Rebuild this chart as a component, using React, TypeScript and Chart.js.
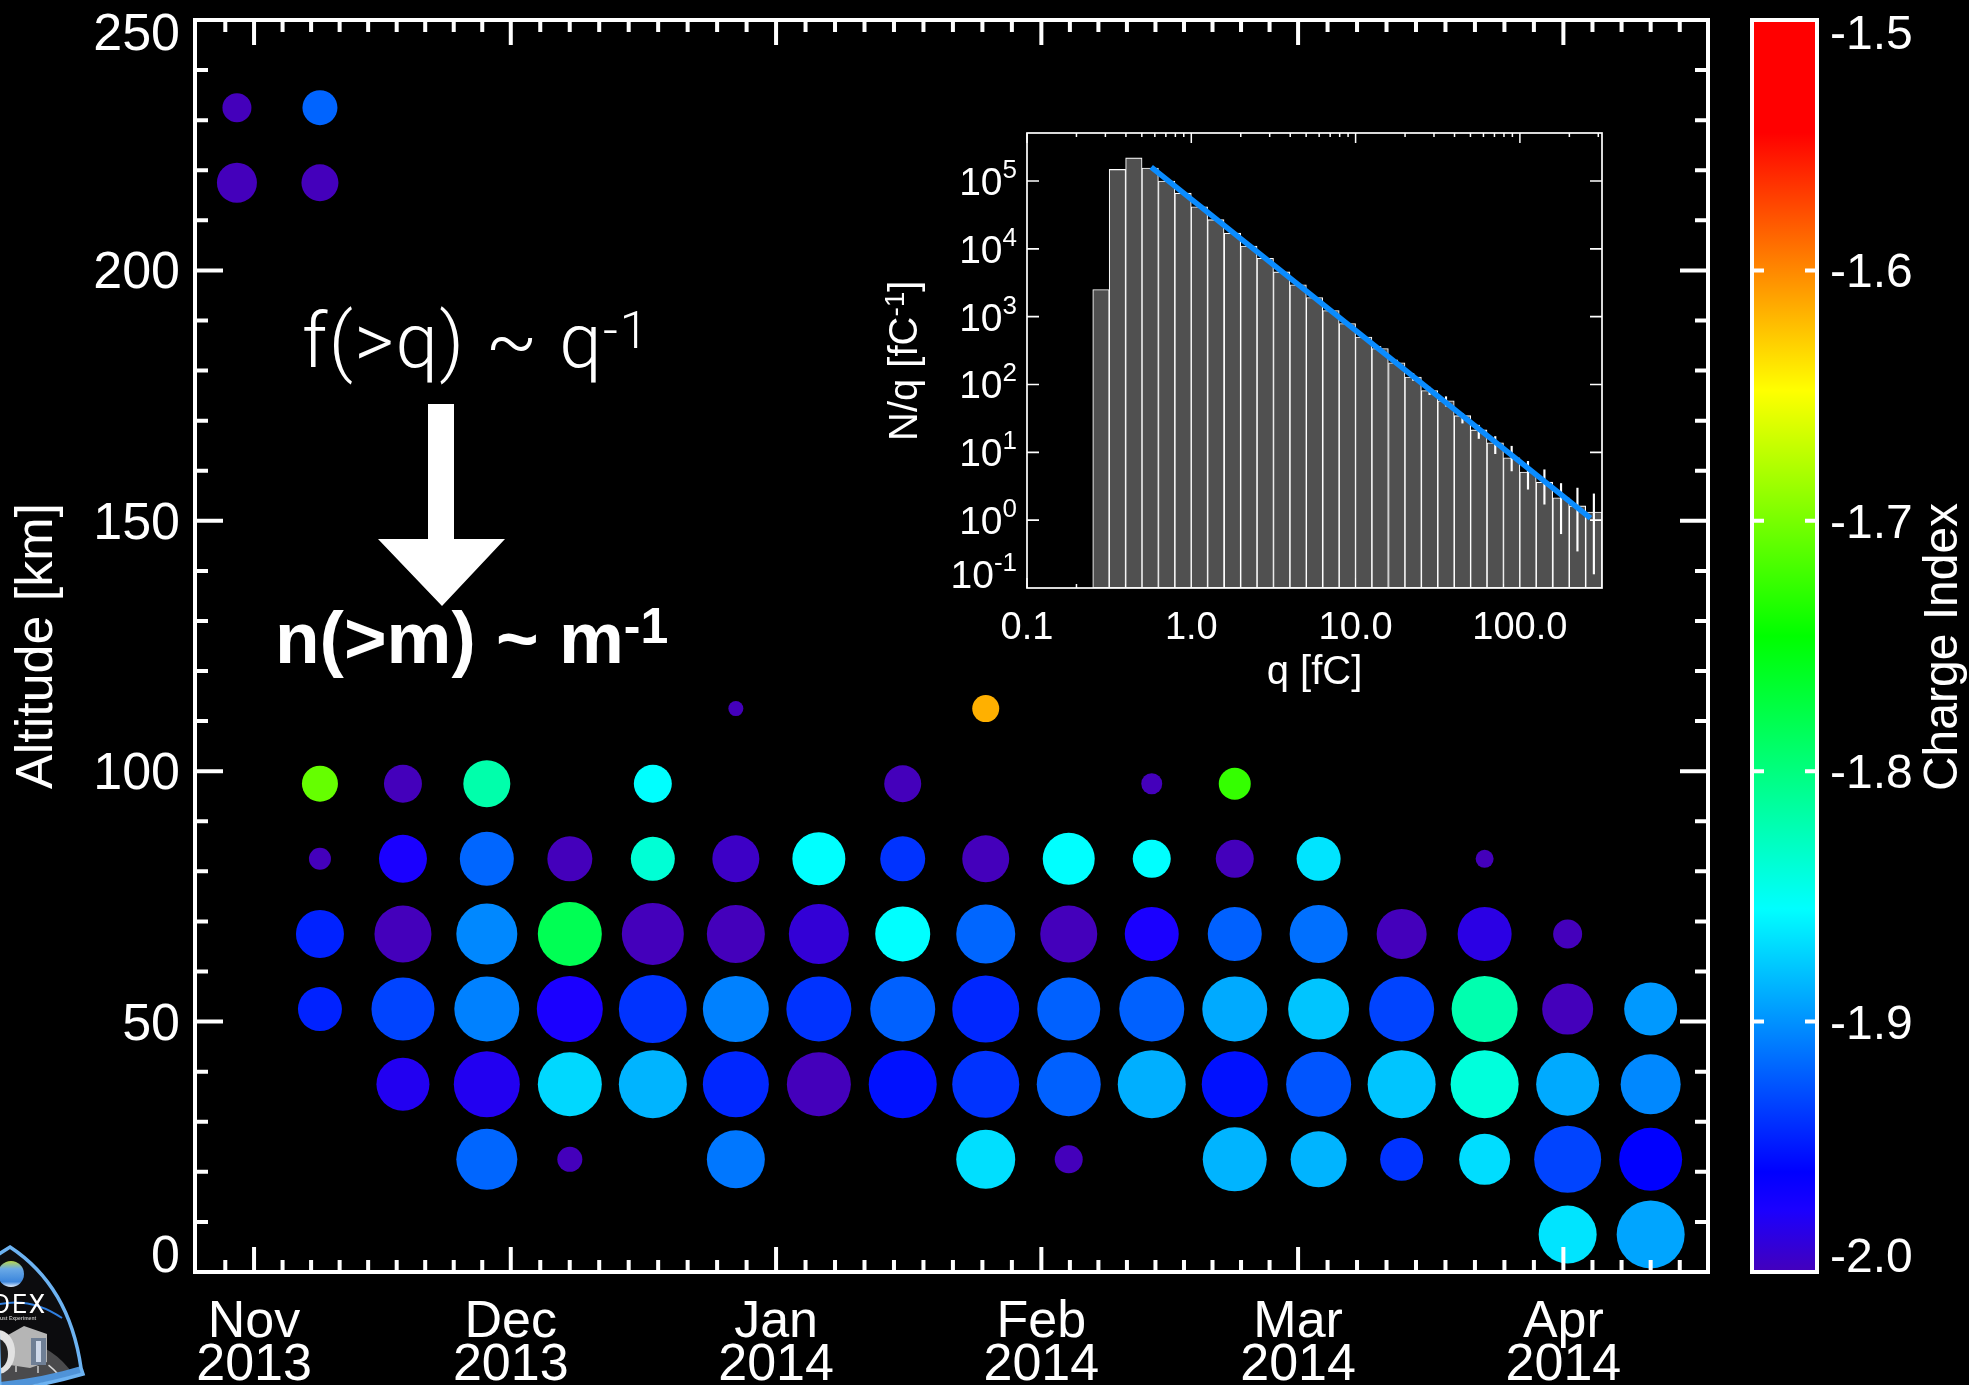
import React, { useEffect, useRef } from "react";
import { Chart, registerables } from "chart.js";
Chart.register(...registerables);

const FONT = '"Liberation Sans", Arial, sans-serif';

// ---------- main bubble panel ----------
const monthDays = [0, 30, 61, 92, 122, 153];
const monthLabels = [["Nov", "2013"], ["Dec", "2013"], ["Jan", "2014"], ["Feb", "2014"], ["Mar", "2014"], ["Apr", "2014"]];
const columnDays = [-2, 7.7, 17.4, 27.2, 36.9, 46.6, 56.3, 66, 75.8, 85.5, 95.2, 104.9, 114.6, 124.4, 134.1, 143.8, 153.5, 163.2];
const altitudeBins = [232.5, 217.5, 112.5, 97.5, 82.5, 67.5, 52.5, 37.5, 22.5, 7.5];
const altitudeTickLabels = ["0", "50", "100", "150", "200", "250"];

// one row per altitude bin, one entry per column; null = no bubble
const n = null;
const index232 = [-2.0, -1.919, n, n, n, n, n, n, n, n, n, n, n, n, n, n, n, n];
const size232 = [29, 35, n, n, n, n, n, n, n, n, n, n, n, n, n, n, n, n];
const index217 = [-2.0, -2.0, n, n, n, n, n, n, n, n, n, n, n, n, n, n, n, n];
const size217 = [40, 37, n, n, n, n, n, n, n, n, n, n, n, n, n, n, n, n];
const index112 = [n, n, n, n, n, n, -2.0, n, n, -1.616, n, n, n, n, n, n, n, n];
const size112 = [n, n, n, n, n, n, 15, n, n, 27, n, n, n, n, n, n, n, n];
const index97 = [n, -1.707, -2.0, -1.819, n, -1.855, n, n, -2.0, n, n, -2.0, -1.726, n, n, n, n, n];
const size97 = [n, 36, 38, 47, n, 38, n, n, 37, n, n, 21, 32, n, n, n, n, n];
const index82 = [n, -2.0, -1.975, -1.918, -2.0, -1.837, -1.996, -1.855, -1.939, -2.0, -1.855, -1.855, -2.0, -1.866, n, -2.0, n, n];
const size82 = [n, 22, 48, 54, 45, 44, 47, 53, 45, 47, 52, 38, 38, 44, n, 18, n, n];
const index67 = [n, -1.946, -2.0, -1.904, -1.782, -2.0, -2.0, -1.99, -1.855, -1.918, -2.0, -1.975, -1.92, -1.914, -2.0, -1.985, -2.0, n];
const size67 = [n, 48, 57, 61, 64, 62, 58, 60, 55, 59, 57, 54, 54, 58, 50, 54, 29, n];
const index52 = [n, -1.946, -1.932, -1.907, -1.975, -1.939, -1.907, -1.939, -1.92, -1.944, -1.92, -1.92, -1.89, -1.879, -1.932, -1.821, -2.0, -1.897];
const size52 = [n, 44, 63, 65, 66, 68, 66, 65, 65, 67, 63, 65, 65, 61, 65, 66, 51, 53];
const index37 = [n, n, -1.98, -1.98, -1.871, -1.886, -1.944, -2.0, -1.953, -1.939, -1.92, -1.888, -1.953, -1.925, -1.879, -1.84, -1.89, -1.904];
const size37 = [n, n, 53, 66, 64, 68, 66, 64, 68, 67, 64, 68, 66, 65, 68, 68, 63, 60];
const index22 = [n, n, n, -1.918, -2.0, n, -1.911, n, n, -1.868, -2.0, n, -1.886, -1.886, -1.939, -1.869, -1.932, -1.96];
const size22 = [n, n, n, 61, 25, n, 58, n, n, 59, 28, n, 64, 56, 43, 51, 67, 63];
const index7 = [n, n, n, n, n, n, n, n, n, n, n, n, n, n, n, n, -1.866, -1.892];
const size7 = [n, n, n, n, n, n, n, n, n, n, n, n, n, n, n, n, 58, 68];
const indexRows = [index232, index217, index112, index97, index82, index67, index52, index37, index22, index7];
const sizeRows = [size232, size217, size112, size97, size82, size67, size52, size37, size22, size7];

// ---------- colour bar ----------
const chargeStops = [-2.0, -1.975, -1.96, -1.855, -1.746, -1.648, -1.545, -1.5];
const chargeColors = ["#4400bb", "#1a00ff", "#0000ff", "#00ffff", "#00ff00", "#ffff00", "#ff0000", "#ff0000"];
const chargeTickLabels = ["-2.0", "-1.9", "-1.8", "-1.7", "-1.6", "-1.5"];

// ---------- inset histogram ----------
const binCenters = [0.282, 0.355, 0.447, 0.562, 0.708, 0.891, 1.12, 1.41, 1.78, 2.24, 2.82, 3.55, 4.47, 5.62, 7.08, 8.91, 11.2, 14.1, 17.8, 22.4, 28.2, 35.5, 44.7, 56.2, 70.8, 89.1, 112, 141, 178, 224, 282];
const binCounts = [2510, 148000, 219000, 155000, 100000, 66100, 41700, 26900, 17000, 11000, 7240, 4570, 2950, 1910, 1230, 794, 501, 339, 209, 129, 81.3, 57.5, 34.7, 21.4, 13.8, 8.32, 5.13, 3.63, 2.14, 1.62, 1.32];
const errCenters = [14.1, 17.8, 22.4, 28.2, 35.5, 44.7, 56.2, 70.8, 89.1, 112, 141, 178, 224, 282];
const errLow = [316, 195, 115, 70.8, 47.9, 27, 16, 9.55, 5.32, 2.86, 1.72, 0.631, 0.35, 0.161];
const errHigh = [363, 229, 145, 91.2, 66.1, 37.2, 25.1, 17.1, 12.3, 7.36, 5.53, 3.47, 2.97, 2.44];
const fitQ = [0.57, 269];
const fitN = [160000, 1.07];
const qMajor = [0.1, 1, 10, 100];
const qLabels = ["0.1", "1.0", "10.0", "100.0"];
const nDecades = [-1, 0, 1, 2, 3, 4, 5];

function chargeColor(v: number) {
  const hex = (c: string) => [1, 3, 5].map((i) => parseInt(c.slice(i, i + 2), 16));
  for (let i = 0; i < chargeStops.length - 1; i++) {
    if (v <= chargeStops[i + 1]) {
      const t = Math.max(0, (v - chargeStops[i]) / (chargeStops[i + 1] - chargeStops[i]));
      const a = hex(chargeColors[i]);
      const b = hex(chargeColors[i + 1]);
      return `rgb(${a.map((x, k) => Math.round(x + (b[k] - x) * t)).join(",")})`;
    }
  }
  return chargeColors[chargeColors.length - 1];
}

function superText(ctx: any, x: number, y: number, main: string, sup: string, font: string, supFont: string, rise: number) {
  ctx.font = font;
  ctx.fillText(main, x, y);
  const w = ctx.measureText(main).width;
  ctx.font = supFont;
  ctx.fillText(sup, x + w, y - rise);
}

function drawLogo(ctx: any) {
  ctx.save();
  const shield = new Path2D();
  shield.moveTo(-4, 1256);
  shield.lineTo(10, 1247);
  shield.bezierCurveTo(42, 1268, 72, 1305, 81, 1368);
  shield.lineTo(83, 1374);
  shield.quadraticCurveTo(45, 1385, 0, 1392);
  shield.closePath();
  ctx.fillStyle = "#0c0c0e";
  ctx.fill(shield);
  ctx.clip(shield);
  // moon
  ctx.fillStyle = "#4a4a4c";
  ctx.beginPath();
  ctx.arc(5, 1420, 82, 0, Math.PI * 2);
  ctx.fill();
  ctx.strokeStyle = "#d8d8d8";
  ctx.lineWidth = 1.5;
  ctx.beginPath();
  ctx.arc(5, 1420, 70, -0.9, -0.35);
  ctx.stroke();
  // globe
  const g = ctx.createLinearGradient(11, 1261, 11, 1287);
  g.addColorStop(0, "#b9d64a");
  g.addColorStop(0.3, "#6aa9e6");
  g.addColorStop(0.8, "#3c86dc");
  g.addColorStop(1, "#e8f2ff");
  ctx.fillStyle = g;
  ctx.beginPath();
  ctx.arc(11, 1274, 13, 0, Math.PI * 2);
  ctx.fill();
  // swoosh
  ctx.strokeStyle = "#2f7fe0";
  ctx.lineWidth = 2;
  ctx.beginPath();
  ctx.moveTo(-4, 1305);
  ctx.quadraticCurveTo(30, 1296, 62, 1318);
  ctx.stroke();
  // name
  ctx.fillStyle = "#ffffff";
  ctx.font = `26px Roboto, ${FONT}`;
  ctx.textAlign = "left";
  ctx.textBaseline = "alphabetic";
  ctx.letterSpacing = "2px";
  ctx.fillText("DEX", -7, 1313);
  ctx.letterSpacing = "0px";
  ctx.fillStyle = "#bbbbbb";
  ctx.font = `bold 5px ${FONT}`;
  ctx.fillText("ust Experiment", 0, 1320);
  // instrument
  ctx.fillStyle = "#b5b5b5";
  ctx.beginPath();
  ctx.moveTo(8, 1335);
  ctx.lineTo(24, 1326);
  ctx.lineTo(47, 1334);
  ctx.lineTo(47, 1362);
  ctx.lineTo(30, 1368);
  ctx.lineTo(10, 1365);
  ctx.closePath();
  ctx.fill();
  ctx.fillStyle = "#6f7f95";
  ctx.fillRect(31, 1338, 15, 27);
  ctx.fillStyle = "#cfd9ea";
  ctx.fillRect(36, 1341, 5, 21);
  ctx.fillStyle = "#e2e2e2";
  ctx.beginPath();
  ctx.ellipse(-2, 1352, 17, 22, 0, 0, Math.PI * 2);
  ctx.fill();
  ctx.fillStyle = "#222222";
  ctx.beginPath();
  ctx.ellipse(-2, 1354, 10, 15, 0, 0, Math.PI * 2);
  ctx.fill();
  ctx.strokeStyle = "#aaaaaa";
  ctx.lineWidth = 2;
  ctx.beginPath();
  ctx.moveTo(16, 1366); ctx.lineTo(16, 1372);
  ctx.moveTo(38, 1366); ctx.lineTo(38, 1373);
  ctx.stroke();
  // bottom band
  ctx.strokeStyle = "#4f93d8";
  ctx.lineWidth = 7;
  ctx.beginPath();
  ctx.moveTo(-4, 1386);
  ctx.quadraticCurveTo(45, 1381, 83, 1369);
  ctx.stroke();
  ctx.restore();
  ctx.strokeStyle = "#6db3f2";
  ctx.lineWidth = 3.5;
  ctx.stroke(shield);
}

const mainPlugin = {
  id: "mainDecor",
  afterDatasetsDraw(chart: any) {
    const { ctx, chartArea: a, scales } = chart;
    const { x, y } = scales;
    ctx.save();
    ctx.strokeStyle = "#fff";
    ctx.lineWidth = 4;
    ctx.strokeRect(a.left, a.top, a.right - a.left, a.bottom - a.top);
    ctx.beginPath();
    x.ticks.forEach((t: any) => {
      const p = x.getPixelForValue(t.value);
      const l = t.major ? 25 : 12;
      ctx.moveTo(p, a.bottom); ctx.lineTo(p, a.bottom - l);
      ctx.moveTo(p, a.top); ctx.lineTo(p, a.top + l);
    });
    y.ticks.forEach((t: any) => {
      if (t.value <= 0 || t.value >= 250) return;
      const p = y.getPixelForValue(t.value);
      const l = t.value % 50 === 0 ? 28 : 13;
      ctx.moveTo(a.left, p); ctx.lineTo(a.left + l, p);
      ctx.moveTo(a.right, p); ctx.lineTo(a.right - l, p);
    });
    ctx.stroke();
    // altitude tick labels
    ctx.fillStyle = "#fff";
    ctx.textBaseline = "alphabetic";
    ctx.textAlign = "right";
    ctx.font = `52px ${FONT}`;
    altitudeTickLabels.forEach((label) => {
      const p = y.getPixelForValue(Number(label));
      ctx.fillText(label, 180, Math.min(Math.max(p + 18, 50), 1272));
    });
    // annotations
    ctx.textAlign = "left";
    ctx.letterSpacing = "1.5px";
    superText(ctx, 302, 367, "f(>q) ~ q", "-1", `300 76px Roboto, ${FONT}`, `300 52px Roboto, ${FONT}`, 19);
    ctx.letterSpacing = "0px";
    superText(ctx, 275, 663, "n(>m) ~ m", "-1", `bold 73px ${FONT}`, `bold 50px ${FONT}`, 20);
    // arrow
    ctx.fillStyle = "#fff";
    ctx.beginPath();
    ctx.moveTo(428, 404); ctx.lineTo(454, 404); ctx.lineTo(454, 539);
    ctx.lineTo(505, 539); ctx.lineTo(442, 606); ctx.lineTo(378, 539);
    ctx.lineTo(428, 539); ctx.closePath();
    ctx.fill();
    drawLogo(ctx);
    ctx.restore();
  },
};

const barPlugin = {
  id: "barDecor",
  afterDatasetsDraw(chart: any) {
    const { ctx, chartArea: a, scales } = chart;
    const y = scales.y;
    ctx.save();
    ctx.strokeStyle = "#fff";
    ctx.lineWidth = 4;
    ctx.strokeRect(a.left, a.top, a.right - a.left, a.bottom - a.top);
    ctx.beginPath();
    y.ticks.forEach((t: any) => {
      if (t.value <= -1.999 || t.value >= -1.501) return;
      const p = y.getPixelForValue(t.value);
      ctx.moveTo(a.left, p); ctx.lineTo(a.left + 12, p);
      ctx.moveTo(a.right, p); ctx.lineTo(a.right - 12, p);
    });
    ctx.stroke();
    ctx.fillStyle = "#fff";
    ctx.font = `48px ${FONT}`;
    ctx.textAlign = "left";
    ctx.textBaseline = "alphabetic";
    chargeTickLabels.forEach((label) => {
      const p = y.getPixelForValue(Number(label));
      ctx.fillText(label, a.right + 13, Math.min(Math.max(p + 17, 49), 1272));
    });
    ctx.translate(a.right + 140, 647);
    ctx.rotate(-Math.PI / 2);
    ctx.textAlign = "center";
    ctx.fillText("Charge Index", 0, 0);
    ctx.restore();
  },
};

const insetPlugin = {
  id: "insetDecor",
  beforeDatasetsDraw(chart: any) {
    const { ctx, chartArea: a, scales } = chart;
    const { x } = scales;
    ctx.save();
    ctx.strokeStyle = "#fff";
    ctx.lineWidth = 1.5;
    ctx.beginPath();
    x.ticks.forEach((t: any) => {
      const p = x.getPixelForValue(t.value);
      const l = t.major ? 10 : 4;
      ctx.moveTo(p, a.top); ctx.lineTo(p, a.top + l);
      ctx.moveTo(p, a.bottom); ctx.lineTo(p, a.bottom - l);
    });
    ctx.stroke();
    ctx.restore();
  },
  afterDatasetsDraw(chart: any) {
    const { ctx, chartArea: a, scales } = chart;
    const y = scales.y;
    ctx.save();
    ctx.strokeStyle = "#fff";
    ctx.lineWidth = 1.7;
    ctx.strokeRect(a.left, a.top, a.right - a.left, a.bottom - a.top);
    ctx.beginPath();
    nDecades.forEach((d) => {
      if (d < 0) return;
      const p = y.getPixelForValue(Math.pow(10, d));
      ctx.moveTo(a.left, p); ctx.lineTo(a.left + 12, p);
      ctx.moveTo(a.right, p); ctx.lineTo(a.right - 12, p);
    });
    ctx.stroke();
    ctx.fillStyle = "#fff";
    ctx.textBaseline = "alphabetic";
    ctx.textAlign = "left";
    nDecades.forEach((d) => {
      const p = y.getPixelForValue(Math.pow(10, d));
      const sup = String(d);
      ctx.font = `39px ${FONT}`;
      const w = ctx.measureText("10").width;
      ctx.font = `26px ${FONT}`;
      const sw = ctx.measureText(sup).width;
      superText(ctx, a.left - 10 - w - sw, Math.min(p + 14, a.bottom), "10", sup, `39px ${FONT}`, `26px ${FONT}`, 17);
    });
    // rotated y title with superscript
    ctx.translate(37, 321);
    ctx.rotate(-Math.PI / 2);
    superText(ctx, 0, 0, "N/q [fC", "-1", `40px ${FONT}`, `28px ${FONT}`, 13);
    ctx.font = `40px ${FONT}`;
    const w1 = ctx.measureText("N/q [fC").width;
    ctx.font = `28px ${FONT}`;
    const w2 = ctx.measureText("-1").width;
    ctx.font = `40px ${FONT}`;
    ctx.fillText("]", w1 + w2, 0);
    ctx.restore();
  },
};

function useChart(ref: any, makeConfig: () => any) {
  useEffect(() => {
    const chart = new Chart(ref.current, makeConfig());
    return () => chart.destroy();
  }, []);
}

function mainConfig() {
  const datasets = altitudeBins.map((alt, r) => {
    const pts: any[] = [];
    const colors: string[] = [];
    indexRows[r].forEach((v, c) => {
      if (v === null) return;
      pts.push({ x: columnDays[c], y: alt, r: (sizeRows[r][c] as number) / 2 });
      colors.push(chargeColor(v));
    });
    return { label: `${alt} km`, data: pts, backgroundColor: colors, borderWidth: 0 };
  });
  return {
    type: "bubble",
    data: { datasets },
    plugins: [mainPlugin],
    options: {
      animation: false,
      responsive: false,
      devicePixelRatio: 1,
      layout: { autoPadding: false, padding: { top: 20, right: 261, left: 0, bottom: 0 } },
      plugins: { legend: { display: false }, tooltip: { enabled: false }, title: { display: false } },
      scales: {
        x: {
          type: "linear",
          min: -6.9,
          max: 169.9,
          grid: { display: false },
          border: { display: false },
          afterBuildTicks(s: any) {
            const ticks: any[] = [{ value: monthDays[0] - 3.36 }];
            monthDays.forEach((d, i) => {
              ticks.push({ value: d, major: true });
              if (i < monthDays.length - 1) {
                const next = monthDays[i + 1];
                for (let k = 1; k < 9; k++) ticks.push({ value: d + ((next - d) * k) / 9 });
              }
            });
            for (let k = 1; k <= 4; k++) ticks.push({ value: 153 + 3.4 * k });
            s.ticks = ticks;
          },
          afterFit(s: any) { s.height = 113; },
          ticks: {
            autoSkip: false,
            maxRotation: 0,
            minRotation: 0,
            padding: 21,
            color: "#fff",
            font: { family: FONT, size: 52, lineHeight: 0.83 },
            callback(v: number) {
              const i = monthDays.indexOf(v);
              return i >= 0 ? monthLabels[i] : "";
            },
          },
        },
        y: {
          type: "linear",
          min: 0,
          max: 250,
          grid: { display: false },
          border: { display: false },
          afterBuildTicks(s: any) {
            const ticks: any[] = [];
            for (let v = 0; v <= 250; v += 10) ticks.push({ value: v });
            s.ticks = ticks;
          },
          afterFit(s: any) { s.width = 195; },
          ticks: { display: false },
          title: {
            display: true,
            text: "Altitude [km]",
            color: "#fff",
            font: { family: FONT, size: 52, lineHeight: 1 },
            padding: { top: 12, bottom: 0 },
          },
        },
      },
    },
  };
}

function barConfig() {
  return {
    type: "bar",
    data: {
      labels: [""],
      datasets: [{
        label: "Charge Index",
        data: [[chargeStops[0], chargeStops[chargeStops.length - 1]]],
        borderWidth: 0,
        barPercentage: 1,
        categoryPercentage: 1,
        backgroundColor(c: any) {
          const { chart } = c;
          if (!chart.chartArea) return "#000";
          const y = chart.scales.y;
          const top = y.getPixelForValue(-1.5);
          const bottom = y.getPixelForValue(-2);
          const g = chart.ctx.createLinearGradient(0, bottom, 0, top);
          chargeStops.forEach((v, i) => g.addColorStop((v + 2) / 0.5, chargeColors[i]));
          return g;
        },
      }],
    },
    plugins: [barPlugin],
    options: {
      animation: false,
      responsive: false,
      devicePixelRatio: 1,
      layout: { padding: { top: 20, left: 22, right: 0, bottom: 113 } },
      plugins: { legend: { display: false }, tooltip: { enabled: false } },
      scales: {
        x: { display: false },
        y: {
          position: "right",
          min: -2,
          max: -1.5,
          grid: { display: false },
          border: { display: false },
          ticks: { display: false, stepSize: 0.1 },
          afterBuildTicks(s: any) {
            s.ticks = chargeTickLabels.map((l) => ({ value: Number(l) }));
          },
          afterFit(s: any) { s.width = 152; },
        },
      },
    },
  };
}

function insetConfig() {
  return {
    type: "bar",
    data: {
      datasets: [
        {
          label: "N/q",
          data: binCenters.map((q, i) => ({ x: q, y: binCounts[i] })),
          backgroundColor: "#505050",
          borderColor: "#ffffff",
          borderWidth: 1.1,
          borderSkipped: false,
          barThickness: 16.45,
          grouped: false,
          order: 3,
        },
        {
          label: "error",
          data: errCenters.map((q, i) => ({ x: q, y: [errLow[i], errHigh[i]] })),
          backgroundColor: "#ffffff",
          borderWidth: 0,
          barThickness: 1.5,
          grouped: false,
          order: 2,
        },
        {
          type: "line",
          label: "fit",
          data: fitQ.map((q, i) => ({ x: q, y: fitN[i] })),
          borderColor: "#0a8cff",
          borderWidth: 5.5,
          pointRadius: 0,
          order: 1,
        },
      ],
    },
    plugins: [insetPlugin],
    options: {
      animation: false,
      responsive: false,
      devicePixelRatio: 1,
      layout: { padding: { top: 13, right: 38, left: 0, bottom: 0 } },
      plugins: { legend: { display: false }, tooltip: { enabled: false } },
      scales: {
        x: {
          type: "logarithmic",
          offset: false,
          min: 0.1,
          max: 316,
          grid: { display: false, offset: false },
          border: { display: false },
          afterBuildTicks(s: any) {
            const ticks: any[] = [];
            qMajor.forEach((m) => {
              ticks.push({ value: m, major: true });
              for (let k = 2; k <= 9; k++) {
                if (m * k <= 316) ticks.push({ value: m * k });
              }
            });
            s.ticks = ticks;
          },
          afterFit(s: any) { s.height = 122; },
          ticks: {
            autoSkip: false,
            maxRotation: 0,
            minRotation: 0,
            padding: 14,
            color: "#fff",
            font: { family: FONT, size: 38, lineHeight: 1 },
            callback(v: number) {
              const i = qMajor.indexOf(v);
              return i >= 0 ? qLabels[i] : "";
            },
          },
          title: {
            display: true,
            text: "q [fC]",
            color: "#fff",
            font: { family: FONT, size: 40, lineHeight: 1 },
            padding: { top: 0, bottom: 17 },
          },
        },
        y: {
          type: "logarithmic",
          min: 0.1,
          max: 510000,
          grid: { display: false },
          border: { display: false },
          ticks: { display: false },
          afterFit(s: any) { s.width = 147; },
        },
      },
    },
  };
}

export default function App() {
  const mainRef = useRef<HTMLCanvasElement>(null);
  const barRef = useRef<HTMLCanvasElement>(null);
  const insetRef = useRef<HTMLCanvasElement>(null);
  useChart(mainRef, mainConfig);
  useChart(barRef, barConfig);
  useChart(insetRef, insetConfig);
  useEffect(() => {
    document.body.style.background = "#000";
    document.body.style.overflow = "hidden";
  }, []);
  const abs = (left: number, top: number): any => ({ position: "absolute", left, top, display: "block" });
  return (
    <div style={{ position: "fixed", left: 0, top: 0, width: 1969, height: 1385, background: "#000", overflow: "hidden" }}>
      <canvas ref={mainRef} width={1969} height={1385} style={abs(0, 0)} />
      <canvas ref={barRef} width={239} height={1385} style={abs(1730, 0)} />
      <canvas ref={insetRef} width={760} height={590} style={abs(880, 120)} />
    </div>
  );
}
